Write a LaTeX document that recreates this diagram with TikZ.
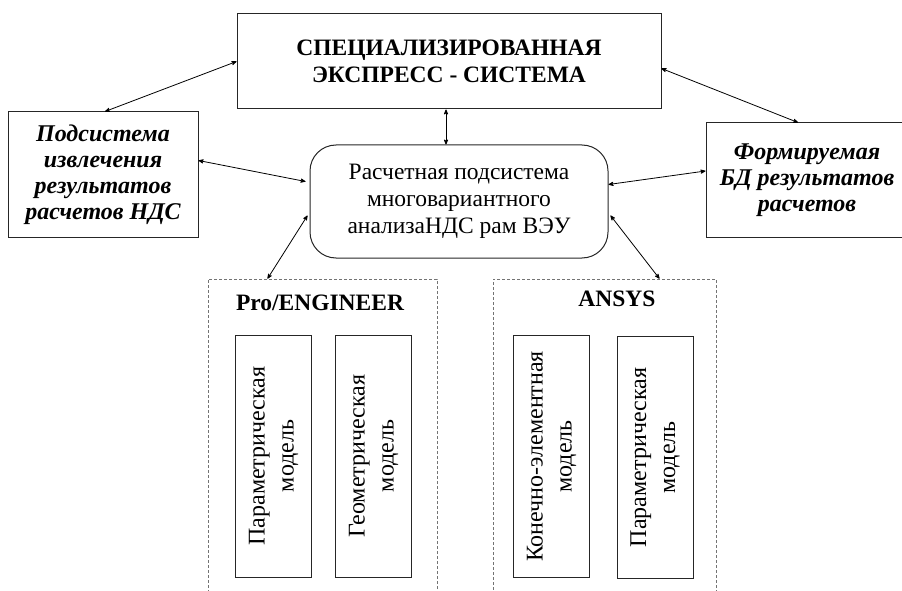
\documentclass[tikz,border=0pt]{standalone}
\usepackage{fontspec}
\setmainfont{Liberation Serif}
\usetikzlibrary{arrows,shapes}
\tikzset{
  blok/.style = {draw=black!85, line width=1pt, align=center, inner sep=0pt,
    text centered, font=\fontsize{23.5}{27}\selectfont},
  blok_top/.style = {blok, font=\fontsize{23.5}{27}\selectfont\bfseries,
    minimum width=424pt, minimum height=95pt},% express-system
  blok_side/.style = {blok, font=\fontsize{24}{26}\selectfont\bfseries\itshape},% side boxes
  blok_calc/.style = {blok, rounded corners=26pt,
    minimum width=298pt, minimum height=113pt},% calc subsystem
  paket/.style = {draw=black!55, densely dashed, line width=0.6pt,
    inner sep=0pt},% program package
  paket_name/.style = {inner sep=0pt, font=\fontsize{23.5}{25}\selectfont\bfseries},
  model/.style = {blok, rotate=90, font=\fontsize{24}{29}\selectfont,
    minimum height=76pt, minimum width=242pt}% vertical model box
}

\begin{document}
\begin{tikzpicture}[x=1pt,y=-1pt,<->,>=stealth',line width=0.8pt]
\clip (0,0) rectangle (902,591);

\node [blok_top] (top) at (449,61.5)
  {СПЕЦИАЛИЗИРОВАННАЯ\\ЭКСПРЕСС - СИСТЕМА};
\node [blok_side, minimum width=190pt, minimum height=125pt] (left) at (103,174.5)
  {Подсистема\\извлечения\\результатов\\расчетов НДС};
\node [blok_side, minimum width=202pt, minimum height=114pt] (right) at (807,180)
  {Формируемая\\БД результатов\\расчетов};
\node [blok_calc] (calc) at (459,201.5)
  {Расчетная подсистема\\многовариантного\\анализаНДС рам ВЭУ};

\node [paket, minimum width=229pt, minimum height=321pt] (pro) at (322.5,439.5) {};
\node [paket, minimum width=223pt, minimum height=321pt] (ansys) at (604.5,439.5) {};
\node [paket_name] (pro_name) at (320,303) {Pro/ENGINEER};
\node [paket_name] (ansys_name) at (617,299) {ANSYS};

\node [model] (pro_par) at (273.5,456) {Параметрическая\\модель};
\node [model] (pro_geo) at (373.5,456) {Геометрическая\\модель};
\node [model] (ans_ke) at (551.5,456.5) {Конечно-элементная\\модель};
\node [model] (ans_par) at (655,457.5) {Параметрическая\\модель};

\draw (top.west) -- ([xshift=2pt]left.north);
\draw ([yshift=-7pt]top.east) -- ([xshift=-9pt]right.north);
\draw ([xshift=-3pt]top.south) -- ([xshift=-13pt]calc.north);
\draw ([yshift=14pt]left.east) -- ([yshift=20pt,xshift=-4pt]calc.west);
\draw ([yshift=17pt]calc.east) -- ([yshift=9pt]right.west);
\draw ([yshift=-14pt,xshift=-2pt]calc.west) -- ([xshift=-55pt]pro.north);
\draw ([yshift=-14pt,xshift=2pt]calc.east) -- ([xshift=55pt]ansys.north);
\end{tikzpicture}
\end{document}
